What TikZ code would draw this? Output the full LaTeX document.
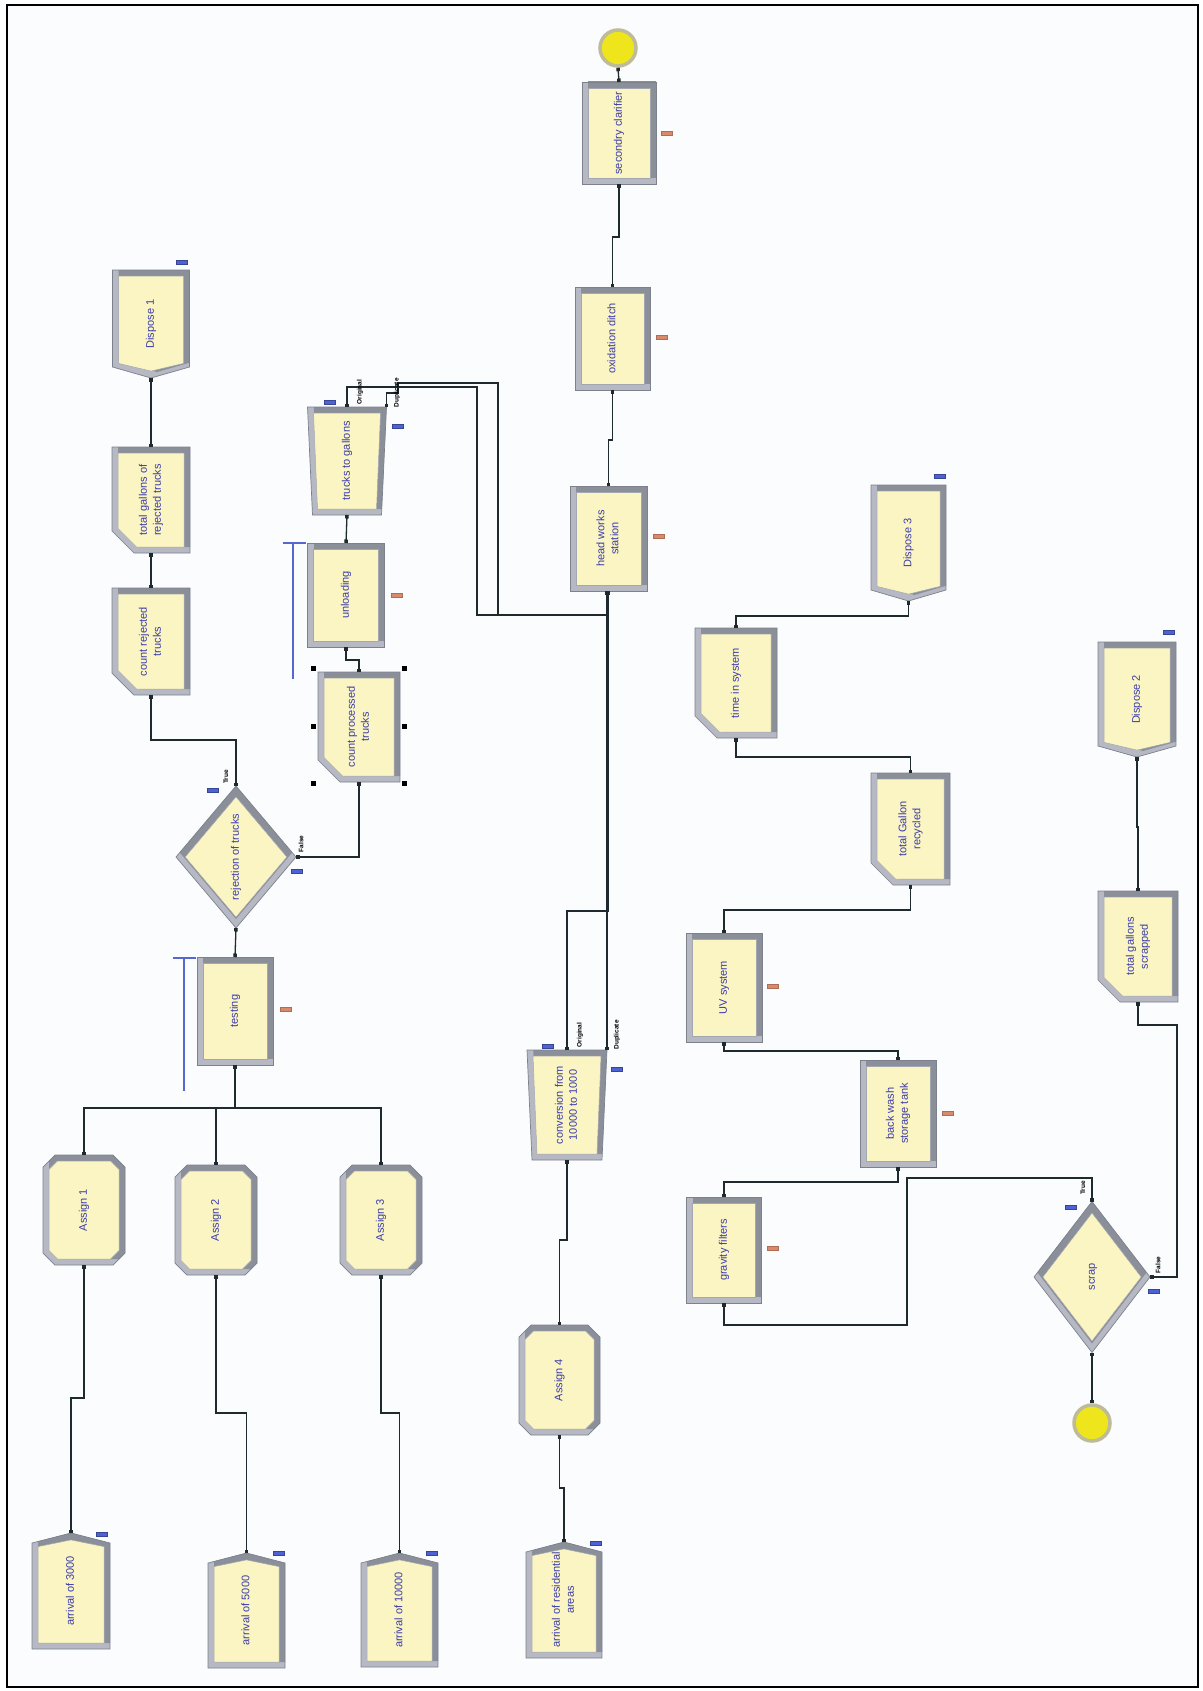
\documentclass[tikz,border=0pt]{standalone}
\usepackage{fontspec}
\setmainfont{Liberation Sans}
\usepackage{graphicx}
\usetikzlibrary{arrows.meta,calc}

\definecolor{blockfill}{HTML}{FAF5C2}
\definecolor{bevdark}{HTML}{8A8F99}
\definecolor{bevlight}{HTML}{B6B9C3}
\definecolor{bevedge}{HTML}{7C818C}
\definecolor{txtblue}{HTML}{3C3CAA}
\definecolor{wire}{HTML}{1F2A2E}
\definecolor{dashblue}{HTML}{4E62D4}
\definecolor{dashorange}{HTML}{D88A6A}
\definecolor{queueblue}{HTML}{5866D0}
\definecolor{ballyellow}{HTML}{EEE51C}
\definecolor{ballring}{HTML}{BDBB98}
\definecolor{canvas}{HTML}{FBFCFE}

% bevel band width and light/dark offset
\def\qbw{6}
\def\qsx{6}\def\qsy{6}

% #1 outer outline, #2 inner face
\newcommand\bevel[2]{%
  \begin{scope}
    \clip #1;
    \fill[bevlight] #1;
    \fill[bevdark, shift={(\qsx,\qsy)}] #1;
  \end{scope}
  \draw[bevedge, line width=0.7pt] #1;
  \filldraw[fill=blockfill, draw=bevedge!70, line width=0.5pt] #2;}

\newcommand\qhalves[2]{%
  \pgfmathsetmacro\qhw{#1/2}\pgfmathsetmacro\qhh{#2/2}%
  \pgfmathsetmacro\qiw{\qhw-\qbw}\pgfmathsetmacro\qih{\qhh-\qbw}}

% process: plain rectangle
\newcommand\shProc[2]{\qhalves{#1}{#2}%
  \bevel{(-\qhw,-\qhh) rectangle (\qhw,\qhh)}{(-\qiw,-\qih) rectangle (\qiw,\qih)}}

% create: rectangle with a peak on top
\newcommand\shCreate[2]{\qhalves{#1}{#2}%
  \pgfmathsetmacro\qya{\qhh-10}\pgfmathsetmacro\qyb{\qhh-10-0.6*\qbw}\pgfmathsetmacro\qyc{\qhh-1.15*\qbw}%
  \bevel{(-\qhw,-\qhh) -- (\qhw,-\qhh) -- (\qhw,\qya) -- (0,\qhh) -- (-\qhw,\qya) -- cycle}
        {(-\qiw,-\qih) -- (\qiw,-\qih) -- (\qiw,\qyb) -- (0,\qyc) -- (-\qiw,\qyb) -- cycle}}

% dispose: rectangle with a point at the bottom
\newcommand\shDispose[2]{\qhalves{#1}{#2}%
  \pgfmathsetmacro\qya{-\qhh+11}\pgfmathsetmacro\qyb{-\qhh+11+0.6*\qbw}\pgfmathsetmacro\qyc{-\qhh+1.15*\qbw}%
  \bevel{(-\qhw,\qhh) -- (\qhw,\qhh) -- (\qhw,\qya) -- (0,-\qhh) -- (-\qhw,\qya) -- cycle}
        {(-\qiw,\qih) -- (\qiw,\qih) -- (\qiw,\qyb) -- (0,\qyc) -- (-\qiw,\qyb) -- cycle}}

% record: rectangle with the lower left corner cut off
\newcommand\shRecord[2]{\qhalves{#1}{#2}%
  \pgfmathsetmacro\qxa{-\qhw+22}\pgfmathsetmacro\qya{-\qhh+22}%
  \pgfmathsetmacro\qxb{-\qhw+22+0.414*\qbw}\pgfmathsetmacro\qyb{-\qhh+22+0.414*\qbw}%
  \bevel{(-\qhw,\qhh) -- (\qhw,\qhh) -- (\qhw,-\qhh) -- (\qxa,-\qhh) -- (-\qhw,\qya) -- cycle}
        {(-\qiw,\qih) -- (\qiw,\qih) -- (\qiw,-\qih) -- (\qxb,-\qih) -- (-\qiw,\qyb) -- cycle}}

% assign: rectangle with all corners cut off
\newcommand\shAssign[2]{\qhalves{#1}{#2}%
  \pgfmathsetmacro\qox{\qhw-12}\pgfmathsetmacro\qoy{\qhh-12}%
  \pgfmathsetmacro\qix{\qiw-12+0.586*\qbw}\pgfmathsetmacro\qiy{\qih-12+0.586*\qbw}%
  \bevel{(-\qox,-\qhh) -- (\qox,-\qhh) -- (\qhw,-\qoy) -- (\qhw,\qoy) -- (\qox,\qhh) -- (-\qox,\qhh) -- (-\qhw,\qoy) -- (-\qhw,-\qoy) -- cycle}
        {(-\qix,-\qih) -- (\qix,-\qih) -- (\qiw,-\qiy) -- (\qiw,\qiy) -- (\qix,\qih) -- (-\qix,\qih) -- (-\qiw,\qiy) -- (-\qiw,-\qiy) -- cycle}}

% separate: trapezoid, wider on top
\newcommand\shSeparate[2]{\qhalves{#1}{#2}%
  \pgfmathsetmacro\qbx{\qhw-5}\pgfmathsetmacro\qibx{\qiw-4}%
  \bevel{(-\qhw,\qhh) -- (\qhw,\qhh) -- (\qbx,-\qhh) -- (-\qbx,-\qhh) -- cycle}
        {(-\qiw,\qih) -- (\qiw,\qih) -- (\qibx,-\qih) -- (-\qibx,-\qih) -- cycle}}

% decide: diamond
\newcommand\shDecide[2]{\qhalves{#1}{#2}%
  \pgfmathsetmacro\qkk{1-7*veclen(\qhw,\qhh)/(\qhw*\qhh)}%
  \pgfmathsetmacro\qiw{\qhw*\qkk}\pgfmathsetmacro\qih{\qhh*\qkk}%
  \def\qsx{0}\def\qsy{9}%
  \bevel{(0,\qhh) -- (\qhw,0) -- (0,-\qhh) -- (-\qhw,0) -- cycle}
        {(0,\qih) -- (\qiw,0) -- (0,-\qih) -- (-\qiw,0) -- cycle}}

% #1 shape, #2 name, #3 x, #4 y (down), #5 width, #6 height, #7 label
\newcommand\blk[7]{%
  \begin{scope}[shift={(#3,-#4)}]\csname sh#1\endcsname{#5}{#6}\end{scope}
  \node[blockbox, minimum width=#5, minimum height=#6] (#2) at (#3,-#4)
    {\rotatebox{90}{\begin{tabular}{@{}c@{}}#7\end{tabular}}};}

\tikzset{
  blockbox/.style={rectangle, inner sep=0pt, outer sep=0pt, text=txtblue,
    font=\fontsize{11}{14}\selectfont},
  conn/.style={draw=wire, line width=1.3pt,
    {Square[length=3.5pt,width=3.5pt]}-{Square[length=3.5pt,width=3.5pt]}},
  portlbl/.style={font=\fontsize{6.5}{7}\selectfont\bfseries, text=black,
    rotate=90, inner sep=0pt},
  bluedash/.style={rectangle, inner sep=0pt, minimum width=11, minimum height=4,
    fill=dashblue, draw=dashblue!70!black, line width=0.3pt},
  orangedash/.style={rectangle, inner sep=0pt, minimum width=11, minimum height=4,
    fill=dashorange, draw=dashorange!80!black, line width=0.3pt},
  queue/.style={draw=queueblue, line width=1.2pt},
  handle/.style={rectangle, inner sep=0pt, minimum size=5, fill=black},
  ball/.style={circle, inner sep=0pt, minimum size=36, fill=ballyellow,
    draw=ballring, line width=3.5pt},
}

\begin{document}
\begin{tikzpicture}[x=1pt,y=1pt]
\useasboundingbox (0,0) rectangle (1202,-1691);
\fill[white] (0,0) rectangle (1202,-1691);
\fill[canvas] (7,-5) rectangle (1198,-1687);
\draw[line width=1.8pt] (7,-5) rectangle (1198,-1687);

% ---- truck arrivals ----
\blk{Create}{arr1}{71}{1591}{78}{116}{arrival of 3000}
\blk{Create}{arr2}{246.5}{1610.5}{77}{115}{arrival of 5000}
\blk{Create}{arr3}{399.5}{1610}{77}{114}{arrival of 10000}
\blk{Create}{arr4}{564}{1600}{76}{116}{arrival of residential\\areas}

\blk{Assign}{as1}{84}{1210}{82}{110}{Assign 1}
\blk{Assign}{as2}{216}{1220}{82}{110}{Assign 2}
\blk{Assign}{as3}{381}{1220}{82}{110}{Assign 3}
\blk{Assign}{as4}{559.5}{1380}{81}{110}{Assign 4}

\blk{Proc}{test}{235}{1011}{76}{108}{testing}
\blk{Decide}{rej}{236}{857}{120}{142}{rejection of trucks}

% ---- rejected trucks ----
\blk{Record}{crt}{151}{641.5}{78}{107}{count rejected\\trucks}
\blk{Record}{tgr}{151}{500}{78}{106}{total gallons of\\rejected trucks}
\blk{Dispose}{d1}{151}{324}{77}{108}{Dispose 1}

% ---- accepted trucks ----
\blk{Record}{cpt}{359}{727}{82}{110}{count processed\\trucks}
\blk{Proc}{unl}{346}{595}{77}{104}{unloading}
\blk{Separate}{ttg}{347}{461}{79}{108}{trucks to gallons}

% ---- treatment line ----
\blk{Separate}{conv}{567}{1105}{80}{110}{conversion from\\10000 to 1000}
\blk{Proc}{hws}{608.5}{538.5}{77}{105}{head works\\station}
\blk{Proc}{oxd}{612.5}{338.5}{75}{103}{oxidation ditch}
\blk{Proc}{sec}{619}{133}{74}{102}{secondry clarifier}
\node[ball] (c1) at (618,-48) {};

% ---- recycling line ----
\node[ball] (c2) at (1092,-1423) {};
\blk{Decide}{scrap}{1092}{1277}{116}{151}{scrap}
\blk{Record}{tgs}{1138}{946.5}{80}{111}{total gallons\\scrapped}
\blk{Dispose}{d2}{1137}{699.5}{78}{115}{Dispose 2}
\blk{Proc}{gf}{724}{1250}{75}{106}{gravity filters}
\blk{Proc}{bws}{898}{1113.5}{76}{107}{back wash\\storage tank}
\blk{Proc}{uv}{724}{987.5}{76}{109}{UV system}
\blk{Record}{tgrc}{910.5}{829}{79}{112}{total Gallon\\recycled}
\blk{Record}{tis}{736}{683}{82}{110}{time in system}
\blk{Dispose}{d3}{908.5}{543}{75}{116}{Dispose 3}

% ---- connections ----
\draw[conn] (arr1.north) -- (71,-1398) -- (84,-1398) -- (as1.south);
\draw[conn] (arr2.north) -- (246.5,-1413) -- (216,-1413) -- (as2.south);
\draw[conn] (arr3.north) -- (399.5,-1413) -- (381,-1413) -- (as3.south);
\draw[conn] (arr4.north) -- (564,-1488) -- (559.5,-1488) -- (as4.south);

\draw[conn] (as1.north) -- (84,-1108) -- (235,-1108) -- (test.south);
\draw[conn] (as2.north) -- (216,-1108) -- (235,-1108) -- (test.south);
\draw[conn] (as3.north) -- (381,-1108) -- (235,-1108) -- (test.south);
\draw[conn] (test.north) -- (rej.south);

\draw[conn] (rej.north) -- (236,-740) -- (151,-740) -- (crt.south);
\draw[conn] (crt.north) -- (tgr.south);
\draw[conn] (tgr.north) -- (d1.south);

\draw[conn] (rej.east) -- (359,-857) -- (cpt.south);
\draw[conn] (cpt.north) -- (359,-660) -- (346,-660) -- (unl.south);
\draw[conn] (unl.north) -- (ttg.south);
\draw[conn] (ttg.north) -- (347,-387) -- (477,-387) -- (477,-615) -- (608.5,-615) -- (hws.south);
\draw[conn] (ttg.north east) -- (386.5,-393) -- (398,-393) -- (398,-383) -- (498,-383) -- (498,-615) -- (608.5,-615) -- (hws.south);

\draw[conn] (as4.north) -- (559.5,-1240) -- (567,-1240) -- (conv.south);
\draw[conn] (conv.north) -- (567,-911) -- (608.5,-911) -- (hws.south);
\draw[conn] (conv.north east) -- (conv.north east |- hws.south);
\draw[conn] (hws.north) -- (608.5,-440) -- (612.5,-440) -- (oxd.south);
\draw[conn] (oxd.north) -- (612.5,-237) -- (619,-237) -- (sec.south);
\draw[conn] (sec.north) -- (c1.south);

\draw[conn] (c2.north) -- (scrap.south);
\draw[conn] (scrap.north) -- (1092,-1178) -- (907,-1178) -- (907,-1325) -- (724,-1325) -- (gf.south);
\draw[conn] (scrap.east) -- (1177,-1277) -- (1177,-1025) -- (1138,-1025) -- (tgs.south);
\draw[conn] (tgs.north) -- (1138,-827) -- (1137,-827) -- (d2.south);
\draw[conn] (gf.north) -- (724,-1182) -- (898,-1182) -- (bws.south);
\draw[conn] (bws.north) -- (898,-1051) -- (724,-1051) -- (uv.south);
\draw[conn] (uv.north) -- (724,-910) -- (910.5,-910) -- (tgrc.south);
\draw[conn] (tgrc.north) -- (910.5,-757) -- (736,-757) -- (tis.south);
\draw[conn] (tis.north) -- (736,-616) -- (908.5,-616) -- (d3.south);

% ---- exit labels ----
\node[portlbl] (rejT) at (226,-777) {True};
\node[portlbl] (rejF) at (301,-844) {False};
\node[portlbl] (scrT) at (1083,-1188) {True};
\node[portlbl] (scrF) at (1158,-1265) {False};
\node[portlbl] (ttgO) at (360,-392) {Original};
\node[portlbl] (ttgD) at (397,-393) {Duplicate};
\node[portlbl] (cnvO) at (580,-1035) {Original};
\node[portlbl] (cnvD) at (617,-1035) {Duplicate};

% ---- small markers ----
\node[bluedash] (m1) at (102,-1534) {};
\node[bluedash] (m2) at (279,-1553) {};
\node[bluedash] (m3) at (432,-1553) {};
\node[bluedash] (m4) at (596,-1543) {};
\node[bluedash] (m5) at (182,-262) {};
\node[bluedash] (m6) at (940,-476) {};
\node[bluedash] (m7) at (1169,-632) {};
\node[bluedash] (m8) at (213,-790) {};
\node[bluedash] (m9) at (297,-871) {};
\node[bluedash] (m10) at (1071,-1207) {};
\node[bluedash] (m11) at (1154,-1291) {};
\node[bluedash] (m12) at (330,-402) {};
\node[bluedash] (m13) at (398,-426) {};
\node[bluedash] (m14) at (548,-1046) {};
\node[bluedash] (m15) at (617,-1069) {};

\node[orangedash] (r1) at (286,-1009) {};
\node[orangedash] (r2) at (397,-595) {};
\node[orangedash] (r3) at (667,-133) {};
\node[orangedash] (r4) at (662,-337) {};
\node[orangedash] (r5) at (659,-536) {};
\node[orangedash] (r6) at (773,-986) {};
\node[orangedash] (r7) at (948,-1113) {};
\node[orangedash] (r8) at (773,-1248) {};

% queue lines
\draw[queue] (184,-958) -- (184,-1091);
\draw[queue] (173,-958) -- (196,-958);
\draw[queue] (293,-543) -- (293,-679);
\draw[queue] (283,-543) -- (306,-543);

% selection handles
\node[handle] (h1) at (313,-668) {};
\node[handle] (h2) at (404,-668) {};
\node[handle] (h3) at (313,-726) {};
\node[handle] (h4) at (404,-726) {};
\node[handle] (h5) at (313,-783) {};
\node[handle] (h6) at (404,-783) {};
\end{tikzpicture}
\end{document}
